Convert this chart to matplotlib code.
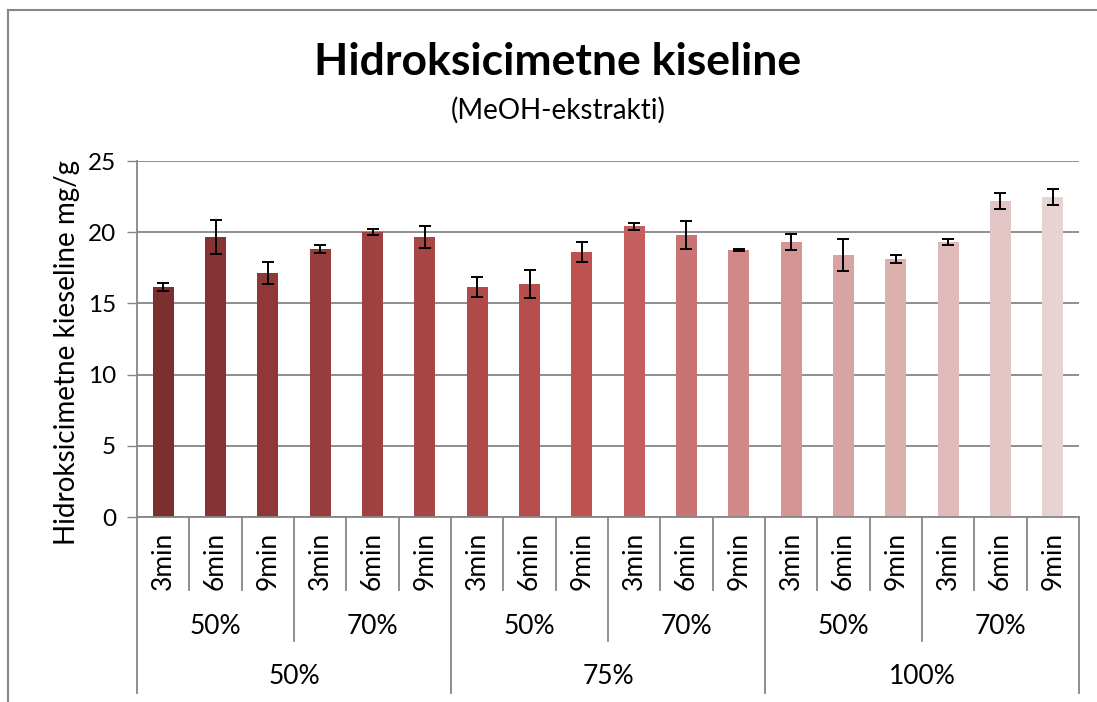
import numpy as np
import matplotlib.pyplot as plt

plt.rcParams['font.family'] = ['Lato', 'DejaVu Sans']

times = ['3min', '6min', '9min'] * 6
mid_groups = ['50%', '70%', '50%', '70%', '50%', '70%']
top_groups = ['50%', '75%', '100%']

values = [16.15, 19.66, 17.13, 18.82, 20.01, 19.66,
          16.15, 16.36, 18.61, 20.43, 19.80, 18.75,
          19.31, 18.40, 18.12, 19.31, 22.19, 22.47]
errors = [0.25, 1.2, 0.75, 0.3, 0.23, 0.8,
          0.72, 0.98, 0.68, 0.25, 1.0, 0.1,
          0.57, 1.15, 0.3, 0.2, 0.55, 0.58]
colors = ['#7b2f2f', '#863333', '#903838', '#983d3d', '#a04141', '#a84545',
          '#b04949', '#b84d4d', '#bf5151', '#c45d5d', '#c87474', '#d08888',
          '#d49595', '#d8a3a3', '#ddb0b0', '#e1baba', '#e4c5c5', '#e8d3d3']

W, H = 1097, 702
fig = plt.figure(figsize=(W / 100, H / 100), dpi=100)

# chart area border (only top and left visible in the crop)
fig.add_artist(plt.Line2D([8 / W, 1], [1 - 10 / H, 1 - 10 / H], color='#868686', lw=1.5))
fig.add_artist(plt.Line2D([8 / W, 8 / W], [0, 1 - 10 / H], color='#868686', lw=1.5))

left, right, top, bottom = 137, 1079, 161, 517
ax = fig.add_axes([left / W, 1 - bottom / H, (right - left) / W, (bottom - top) / H])

x = np.arange(len(values))
ax.bar(x, values, width=0.4, color=colors, zorder=2)
ax.errorbar(x, values, yerr=errors, fmt='none', ecolor='black', elinewidth=1.4,
            capsize=4.5, capthick=1.4, zorder=3)

ax.set_xlim(-0.5, len(values) - 0.5)
ax.set_ylim(0, 25)
ax.set_yticks(range(0, 26, 5))
ax.yaxis.grid(True, color='#868686', lw=1.3)
ax.set_axisbelow(True)
ax.tick_params(axis='y', length=7, width=1, color='#868686', labelsize=17.5, pad=8)
ax.tick_params(axis='x', length=0, labelbottom=False)
for s in ['top', 'right']:
    ax.spines[s].set_visible(False)
for s in ['left', 'bottom']:
    ax.spines[s].set_color('#868686')
    ax.spines[s].set_linewidth(1.3)

ax.set_ylabel('Hidroksicimetne kieseline mg/g', fontsize=20, labelpad=6)
ax.yaxis.label.set_y(0.463)

# multi-level category axis
tr = ax.get_xaxis_transform()
ph = bottom - top
r1 = -(590 - bottom) / ph
r2 = -(641 - bottom) / ph
r3 = -(693 - bottom) / ph
for i in range(len(values) + 1):
    xe = i - 0.5
    if i % 6 == 0:
        yb = r3
    elif i % 3 == 0:
        yb = r2
    else:
        yb = r1
    ax.plot([xe, xe], [0, yb], transform=tr, color='#868686', lw=1.3, clip_on=False)

for i, t in enumerate(times):
    ax.text(i, -(532 - bottom) / ph, t, transform=tr, rotation=90, ha='center',
            va='top', fontsize=19)
for j, g in enumerate(mid_groups):
    ax.text(3 * j + 1, -(626 - bottom) / ph, g, transform=tr, ha='center',
            va='center', fontsize=19)
for k, g in enumerate(top_groups):
    ax.text(6 * k + 2.5, -(677 - bottom) / ph, g, transform=tr, ha='center',
            va='center', fontsize=19)

fig.text(558 / W, 1 - 62 / H, 'Hidroksicimetne kiseline', ha='center', va='center',
         fontsize=32, fontweight='bold')
fig.text(558 / W, 1 - 110 / H, '(MeOH-ekstrakti)', ha='center', va='center', fontsize=20)

fig.savefig('out.png', dpi=100)
